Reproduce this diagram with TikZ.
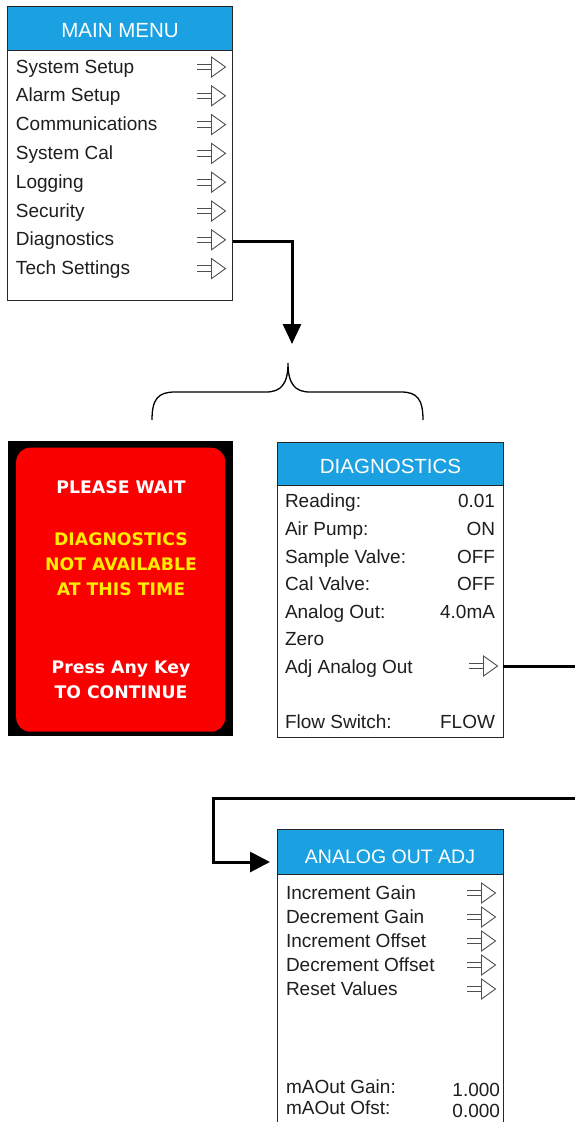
\documentclass[tikz,border=0pt]{standalone}
\usepackage{fontspec}
\setmainfont{Liberation Sans}
\newfontfamily\panelfont{DejaVu Sans}
\usetikzlibrary{arrows.meta}
\definecolor{hdrblue}{RGB}{27,161,226}
\definecolor{txt}{RGB}{30,30,30}
\definecolor{panelred}{RGB}{250,0,0}
\definecolor{panelyellow}{RGB}{255,236,0}
\definecolor{icongray}{RGB}{80,80,80}
\tikzset{
  frame/.style={draw=black!85, line width=0.9pt, fill=white, anchor=north west, inner sep=0pt, outer sep=0pt},
  hdr/.style={fill=hdrblue, draw=black!85, line width=0.9pt, anchor=north west, inner sep=0pt, outer sep=0pt},
  item/.style={anchor=base west, inner sep=0pt, outer sep=0pt, text=txt, font=\fontsize{19}{19}\selectfont},
  val/.style={item, anchor=base east},
  hdrtext/.style={anchor=base, inner sep=0pt, text=white, font=\fontsize{20.5}{20}\selectfont},
  ptext/.style={anchor=base, inner sep=0pt, font=\panelfont\bfseries\fontsize{17.3}{17}\selectfont},
  conn/.style={line width=3pt, draw=black},
  marr/.pic={
    \draw[icongray, line width=0.9pt] (0,-2.8)--(14.5,-2.8) (0,2.8)--(14.5,2.8);
    \draw[icongray, line width=0.9pt, line join=miter] (14.5,-10)--(28.5,0)--(14.5,10)--cycle;
  }
}
\begin{document}
\begin{tikzpicture}[x=1pt,y=-1pt]
\useasboundingbox (0,0) rectangle (575,1122);
\clip (0,0) rectangle (575,1122);
\fill[white] (0,0) rectangle (575,1122);

% ---------- MAIN MENU ----------
\node[frame, minimum width=225.5pt, minimum height=294pt] (main) at (7.3,6) {};
\node[hdr, minimum width=225.5pt, minimum height=44pt] (mainhdr) at (7.3,6) {};
\node[hdrtext] (mainttl) at (120,37) {MAIN MENU};
\foreach \t [count=\i from 0] in {System Setup, Alarm Setup, Communications, System Cal, Logging, Security, Diagnostics, Tech Settings}{
  \node[item] (mi\i) at (16,{73+28.8*\i}) {\t};
  \pic at (197,{73+28.8*\i-6}) {marr};
}

% ---------- connector down + brace ----------
\coordinate (dn) at (292,344);
\draw[conn, -{Triangle[length=20pt,width=18pt]}] (main.east |- 0,241) -| (dn);
\coordinate (bl) at (152,420);
\coordinate (bt) at (288,363);
\coordinate (br) at (423,420);
\draw[line width=1.3pt] (bl) .. controls (152,399) and (158,392) .. (175,392) -- (266,392)
  .. controls (281,392) and (288,384) .. (bt)
  .. controls (288,384) and (295,392) .. (310,392) -- (401,392)
  .. controls (417,392) and (423,399) .. (br);

% ---------- PLEASE WAIT panel ----------
\node[fill=black, anchor=north west, inner sep=0pt, minimum width=225pt, minimum height=295pt] (panel) at (8,441) {};
\node[fill=panelred, rounded corners=14pt, anchor=north west, inner sep=0pt, minimum width=209pt, minimum height=284pt] (panelin) at (16,447.5) {};
\node[ptext, text=white] (p1) at (121,493) {PLEASE WAIT};
\node[ptext, text=panelyellow] (p2) at (121,545) {DIAGNOSTICS};
\node[ptext, text=panelyellow] (p3) at (121,570) {NOT AVAILABLE};
\node[ptext, text=panelyellow] (p4) at (121,595.5) {AT THIS TIME};
\node[ptext, text=white] (p5) at (121,673) {Press Any Key};
\node[ptext, text=white] (p6) at (121,698) {TO CONTINUE};

% ---------- DIAGNOSTICS ----------
\node[frame, minimum width=225.5pt, minimum height=295pt] (diag) at (277.5,442) {};
\node[hdr, minimum width=225.5pt, minimum height=43pt] (diaghdr) at (277.5,442) {};
\node[hdrtext] (diagttl) at (390.5,473) {DIAGNOSTICS};
\node[item] (d1) at (285,507) {Reading:};
\node[val]  (v1) at (495,507) {0.01};
\node[item] (d2) at (285,535) {Air Pump:};
\node[val]  (v2) at (495,535) {ON};
\node[item] (d3) at (285,563) {Sample Valve:};
\node[val]  (v3) at (495,563) {OFF};
\node[item] (d4) at (285,590) {Cal Valve:};
\node[val]  (v4) at (495,590) {OFF};
\node[item] (d5) at (285,618) {Analog Out:};
\node[val]  (v5) at (495,618) {4.0mA};
\node[item] (d6) at (285,645) {Zero};
\node[item] (d7) at (285,673) {Adj Analog Out};
\pic at (469,666) {marr};
\node[item] (d8) at (285,728) {Flow Switch:};
\node[val]  (v8) at (495,728) {FLOW};

% ---------- connector to ANALOG OUT ADJ ----------
\coordinate (ain) at (270,862);
\draw[conn, -{Triangle[length=20pt,width=20pt]}] (diag.east |- 0,666) -- (590,666) -- (590,798) -| (213,862) -- (ain);

% ---------- ANALOG OUT ADJ ----------
\node[frame, minimum width=225.5pt, minimum height=310pt] (adj) at (277.5,829) {};
\node[hdr, minimum width=225.5pt, minimum height=45pt] (adjhdr) at (277.5,829) {};
\node[hdrtext, font=\fontsize{19.5}{20}\selectfont] (adjttl) at (390,863) {ANALOG OUT ADJ};
\foreach \t [count=\i from 0] in {Increment Gain, Decrement Gain, Increment Offset, Decrement Offset, Reset Values}{
  \node[item] (a\i) at (286,{899+24*\i}) {\t};
  \pic at (467,{899+24*\i-6}) {marr};
}
\node[item] (g1) at (286,1093) {mAOut Gain:};
\node[val]  (gv1) at (500,1096) {1.000};
\node[item] (g2) at (286,1114) {mAOut Ofst:};
\node[val]  (gv2) at (500,1117) {0.000};
\end{tikzpicture}
\end{document}
